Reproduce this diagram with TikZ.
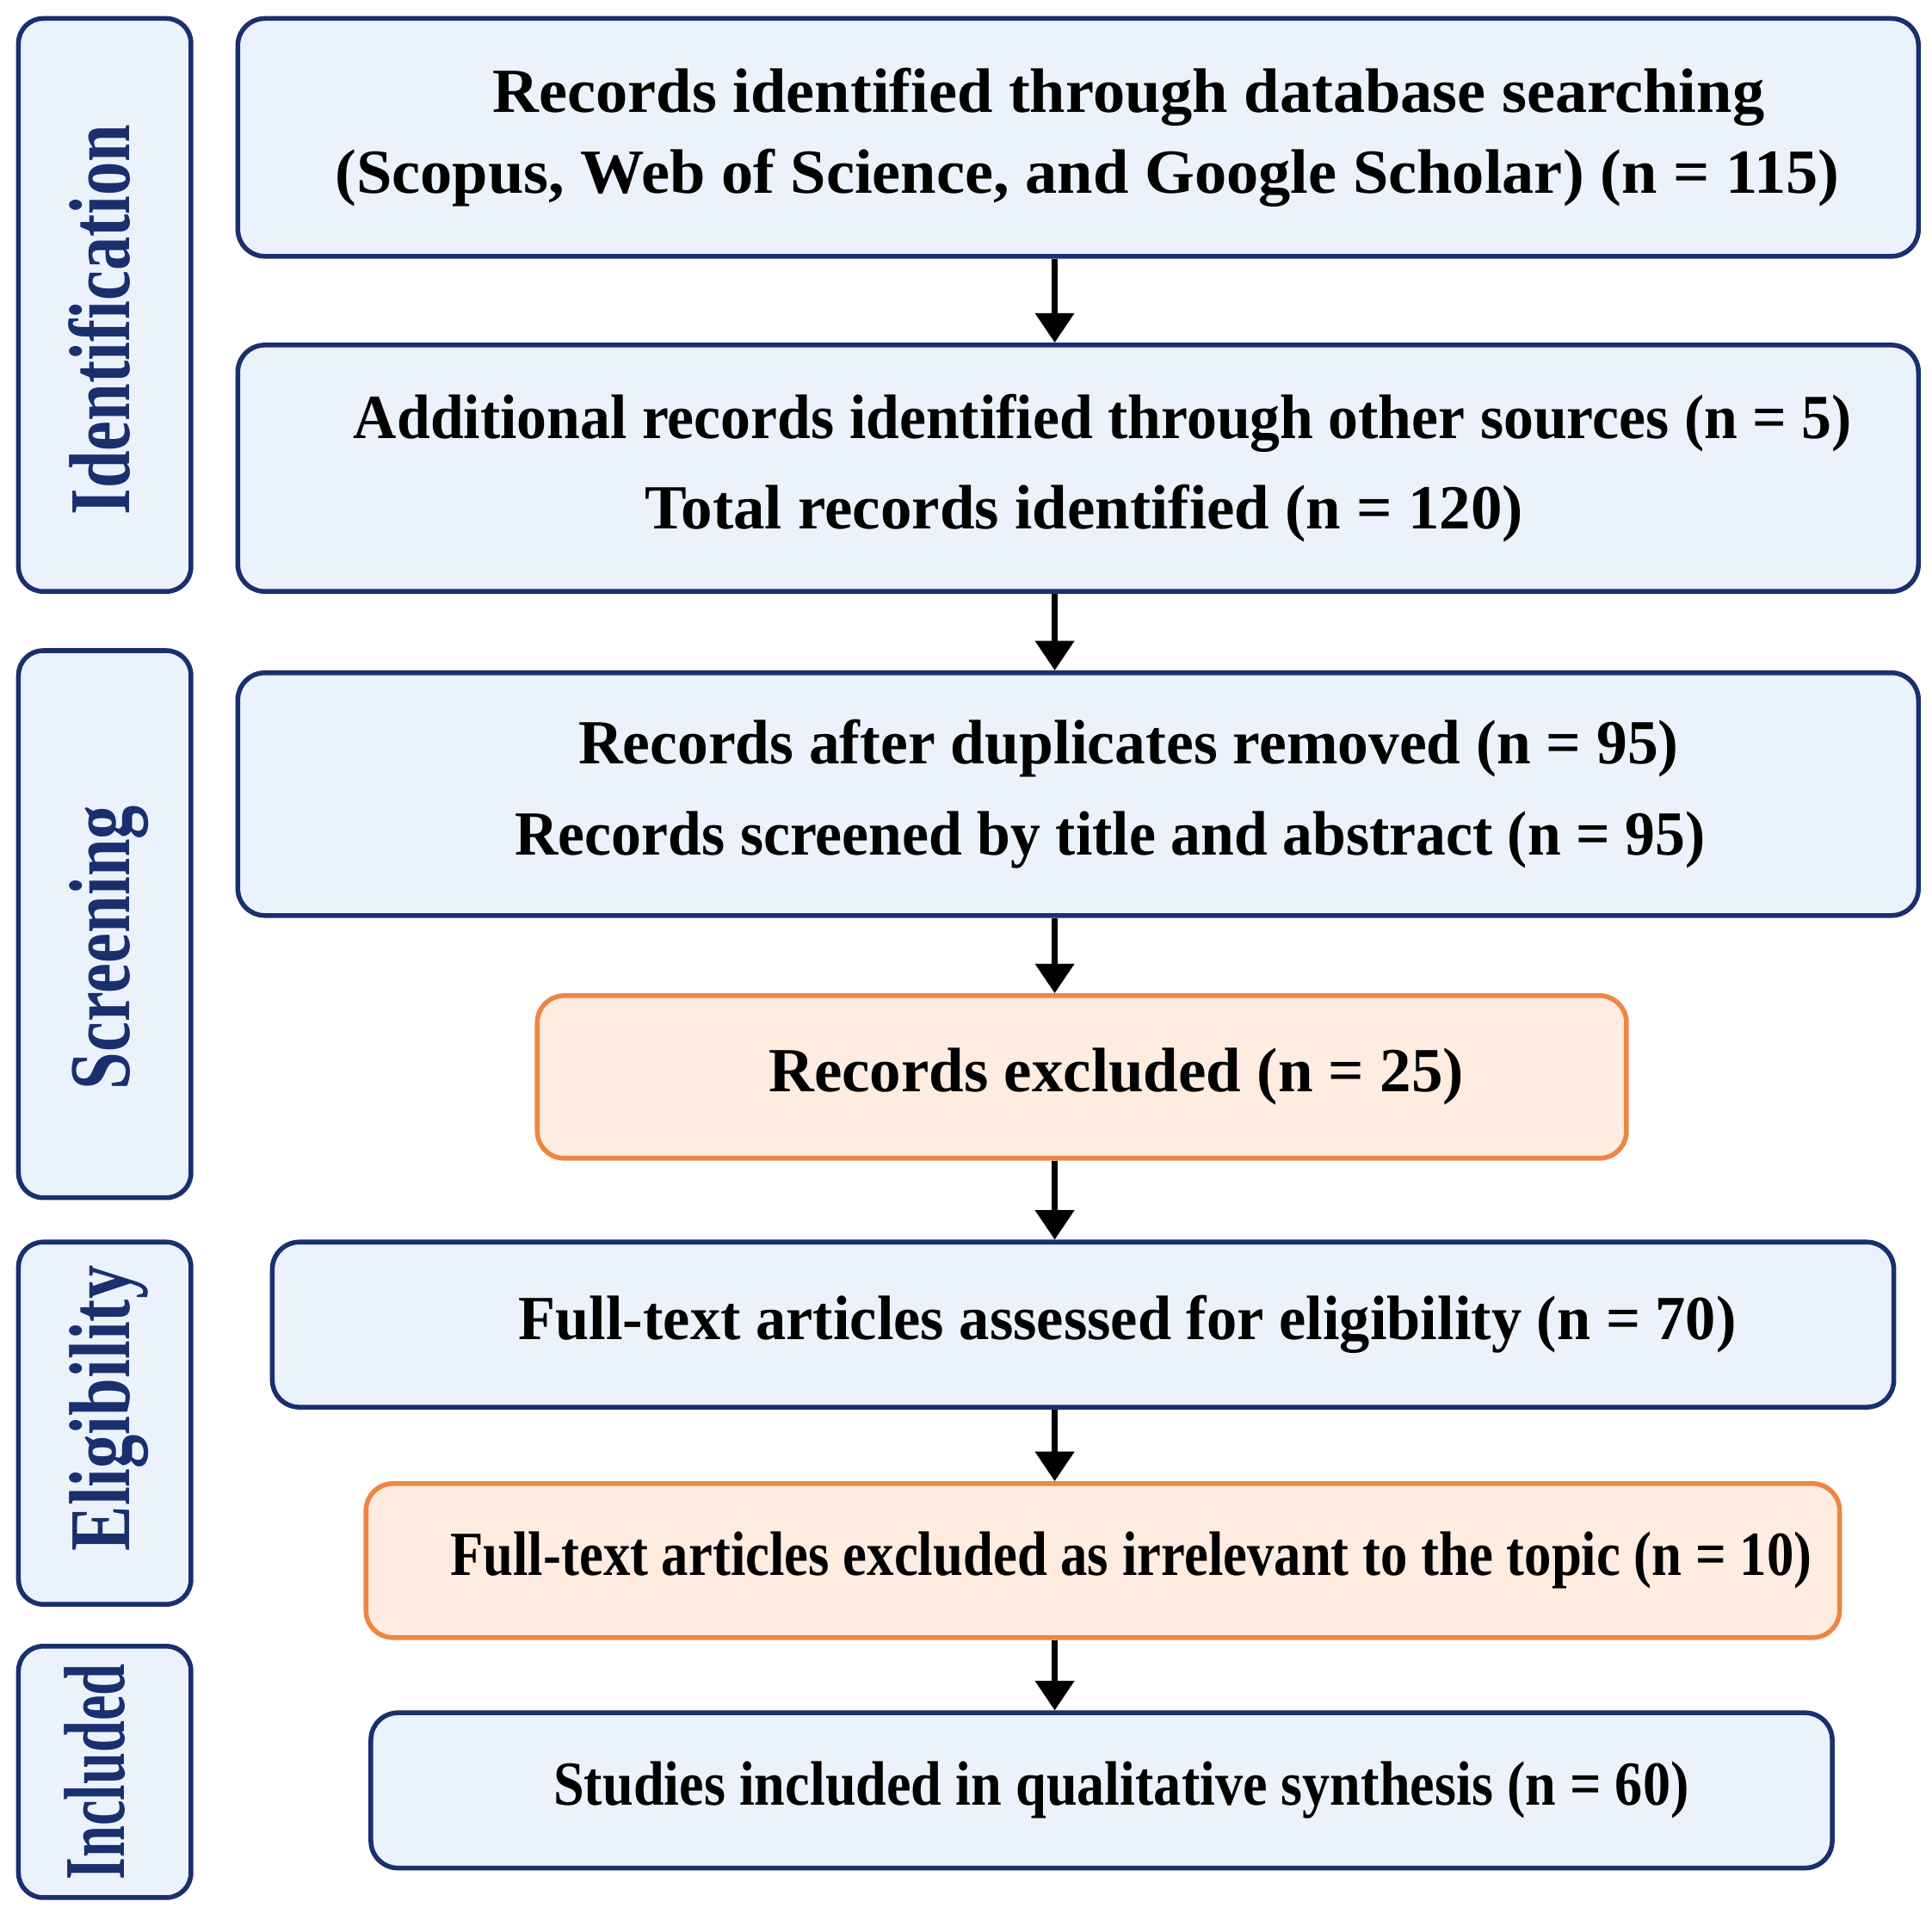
\documentclass[tikz,border=0pt]{standalone}
\usepackage{xcolor}
\usepackage{tikz}
\usepackage{fontspec}
\setmainfont{Liberation Serif}
\usetikzlibrary{shapes.geometric, arrows.meta, positioning, calc}

\definecolor{navy}{HTML}{1A2F6E}
\definecolor{boxblue}{HTML}{EBF2FB}
\definecolor{boxorange}{HTML}{FDECDF}
\definecolor{lineorange}{HTML}{EF8443}

% one text line: left pad, horizontal squeeze, text
\newcommand{\tline}[3]{\hspace*{#1}\scalebox{#2}[1]{#3}}

\begin{document}
\begin{tikzpicture}
    \tikzstyle{block} = [rectangle, draw=navy, line width=1.1pt, fill=boxblue, rounded corners=0.22cm, align=center, font=\fontsize{14.5}{21}\selectfont\bfseries]
    \tikzstyle{excl} = [block, draw=lineorange, fill=boxorange]
    \tikzstyle{stage} = [rectangle, draw=navy, line width=1.1pt, fill=boxblue, rounded corners=0.2cm, minimum width=1.40cm]
    \tikzstyle{stagetext} = [rotate=90, anchor=mid, text=navy, font=\fontsize{20}{20}\selectfont\bfseries]
    \tikzstyle{arr} = [-{Triangle[width=3.1mm,length=2.4mm]}, line width=1.3pt]

    \useasboundingbox (0,0) rectangle (15.68,-15.53);

    % Stages
    \node[stage, minimum height=4.65cm] (ident) at (0.85,-2.475) {};
    \node[stagetext] at ($(ident.center)+(0.12,-0.12)$) {\scalebox{0.78}[1]{Identification}};
    \node[stage, minimum height=4.44cm] (screen) at (0.85,-7.50) {};
    \node[stagetext] at ($(screen.center)+(0.12,-0.19)$) {\scalebox{0.78}[1]{Screening}};
    \node[stage, minimum height=2.94cm] (elig) at (0.85,-11.55) {};
    \node[stagetext] at ($(elig.center)+(0.12,0.12)$) {\scalebox{0.78}[1]{Eligibility}};
    \node[stage, minimum height=2.04cm] (incl) at (0.85,-14.38) {};
    \node[stagetext] at ($(incl.center)+(0.08,0)$) {\scalebox{0.66}[1]{Included}};

    % Search
    \node[block, minimum width=13.64cm, minimum height=1.93cm, font=\fontsize{14.5}{18.7}\selectfont\bfseries] (search) at (8.75,-1.115) {\tline{0.82cm}{1.02}{Records identified through database searching}\\ \tline{0.15cm}{1.02}{(Scopus, Web of Science, and Google Scholar) (n = 115)}};

    % Other sources
    \node[block, minimum width=13.64cm, minimum height=2.00cm] (other) at (8.75,-3.80) {\tline{0.40cm}{0.956}{Additional records identified through other sources (n = 5)}\\ \tline{0.10cm}{1}{Total records identified (n = 120)}};

    % Duplicates
    \node[block, minimum width=13.64cm, minimum height=1.97cm] (dup) at (8.75,-6.445) {\tline{0.82cm}{0.98}{Records after duplicates removed (n = 95)}\\ \tline{0.52cm}{0.956}{Records screened by title and abstract (n = 95)}};

    % Excluded
    \node[excl, minimum width=8.84cm, minimum height=1.32cm] (recexcl) at (8.78,-8.74) {\tline{0.56cm}{1}{Records excluded (n = 25)}};

    % Full text
    \node[block, minimum width=13.16cm, minimum height=1.34cm] (full) at (8.79,-10.75) {\tline{0.72cm}{0.965}{Full-text articles assessed for eligibility (n = 70)}};

    % Full text excluded
    \node[excl, minimum width=11.96cm, minimum height=1.25cm] (fullexcl) at (8.95,-12.665) {\tline{0.46cm}{0.86}{Full-text articles excluded as irrelevant to the topic (n = 10)}};

    % Included
    \node[block, minimum width=11.86cm, minimum height=1.26cm] (synth) at (8.94,-14.53) {\tline{0.32cm}{0.88}{Studies included in qualitative synthesis (n = 60)}};

    % Arrows
    \coordinate (ax) at (8.56,0);
    \draw[arr] (search.south -| ax) -- (other.north -| ax);
    \draw[arr] (other.south -| ax) -- (dup.north -| ax);
    \draw[arr] (dup.south -| ax) -- (recexcl.north -| ax);
    \draw[arr] (recexcl.south -| ax) -- (full.north -| ax);
    \draw[arr] (full.south -| ax) -- (fullexcl.north -| ax);
    \draw[arr] (fullexcl.south -| ax) -- (synth.north -| ax);
\end{tikzpicture}
\end{document}
